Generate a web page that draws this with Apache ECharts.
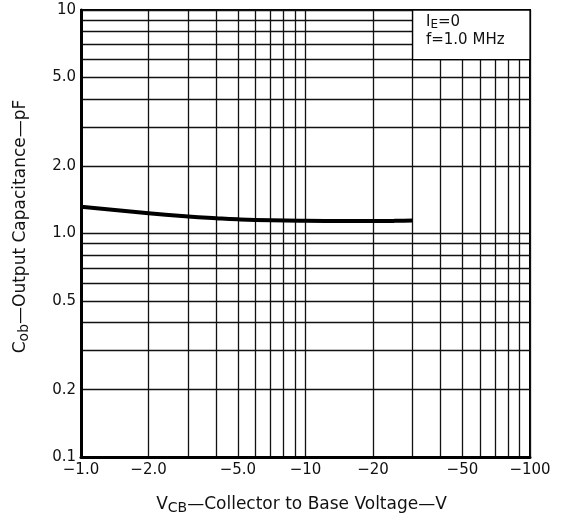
<!DOCTYPE html>
<html>
<head>
<meta charset="utf-8">
<script src="https://cdn.jsdelivr.net/npm/echarts@6/dist/echarts.min.js"></script>
<style>html,body{margin:0;padding:0;background:#fff}#c{width:566px;height:522px}</style>
</head>
<body>
<div id="c"></div>
<script>
// Data (|V_CB| in volts, C_ob in pF)
var vcb = [1, 2, 3, 4, 5, 7, 10, 15, 20, 25, 30];
var cob = [1.318, 1.231, 1.191, 1.170, 1.157, 1.145, 1.139, 1.137, 1.137, 1.139, 1.144];
var xGrid = [1,2,3,4,5,6,7,8,9,10,20,30,40,50,60,70,80,90,100];
var yGrid = [0.1,0.2,0.3,0.4,0.5,0.6,0.7,0.8,0.9,1,2,3,4,5,6,7,8,9,10];
var xLabels = [1,2,5,10,20,50,100];
var yLabels = [0.1,0.2,0.5,1,2,5,10];
var xLabelText = {1:'\u22121.0',2:'\u22122.0',5:'\u22125.0',10:'\u221210',20:'\u221220',50:'\u221250',100:'\u2212100'};
var yLabelText = {0.1:'0.1',0.2:'0.2',0.5:'0.5',1:'1.0',2:'2.0',5:'5.0',10:'10'};

var font = 'DejaVu Sans, sans-serif';
var chart = echarts.init(document.getElementById('c'));
chart.setOption({
  animation: false,
  backgroundColor: '#fff',
  grid: {left: 81, right: 36, top: 10, bottom: 65, show: true, borderColor: '#000', borderWidth: 2},
  xAxis: {
    type: 'log', logBase: 10, min: 1, max: 100,
    name: '{a|V}{s|CB}{a|\u2014Collector to Base Voltage\u2014V}',
    nameLocation: 'middle', nameGap: 38,
    nameTextStyle: {padding: [0, 8, 0, 0], rich: {
      a: {fontSize: 17, fontFamily: font, color: '#111'},
      s: {fontSize: 14, fontFamily: font, color: '#111', verticalAlign: 'bottom', padding: [6,0,0,0]}
    }},
    axisLine: {show: true, lineStyle: {color: '#000', width: 3}},
    axisTick: {show: false, customValues: xGrid},
    axisLabel: {customValues: xLabels, margin: 6, fontSize: 15, fontFamily: font, color: '#111',
      formatter: function (v) { return xLabelText[Math.round(v)] || ''; }},
    splitLine: {show: true, lineStyle: {color: '#111', width: 1.3}}
  },
  yAxis: {
    type: 'log', logBase: 10, min: 0.1, max: 10,
    name: '{a|C}{s|ob}{a|\u2014Output Capacitance\u2014pF}',
    nameLocation: 'middle', nameGap: 50, nameRotate: 90,
    nameTextStyle: {padding: [0, 0, 0, 14], rich: {
      a: {fontSize: 17, fontFamily: font, color: '#111'},
      s: {fontSize: 14, fontFamily: font, color: '#111', verticalAlign: 'bottom', padding: [6,0,0,0]}
    }},
    axisLine: {show: true, lineStyle: {color: '#000', width: 3}},
    axisTick: {show: false, customValues: yGrid},
    axisLabel: {customValues: yLabels, margin: 5, fontSize: 15, fontFamily: font, color: '#111',
      formatter: function (v) { var k = Math.round(v*10)/10; return yLabelText[k] || ''; }},
    splitLine: {show: true, lineStyle: {color: '#111', width: 1.3}}
  },
  series: [{
    type: 'line',
    data: vcb.map(function (v, i) { return [v, cob[i]]; }),
    smooth: 0.5,
    showSymbol: false,
    lineStyle: {color: '#000', width: 4, cap: 'butt', join: 'round'},
    z: 5,
    markArea: {
      silent: true,
      itemStyle: {color: '#fff', borderColor: '#000', borderWidth: 1.3},
      label: {
        show: true, position: 'insideTopLeft', distance: 4, offset: [10, 0],
        formatter: '{a|I}{s|E}{a|=0}\n{a|f=1.0 MHz}',
        rich: {
          a: {fontSize: 15, fontFamily: font, color: '#111', lineHeight: 18},
          s: {fontSize: 12, fontFamily: font, color: '#111', verticalAlign: 'bottom', padding: [5,0,0,0], lineHeight: 18}
        }
      },
      data: [[{coord: [30, 6]}, {coord: [100, 10]}]]
    }
  }]
});
</script>
</body>
</html>
